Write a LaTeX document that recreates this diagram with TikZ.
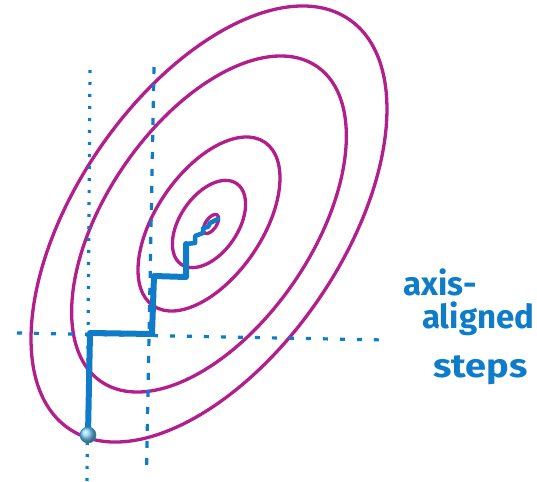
\documentclass[tikz,border=0pt]{standalone}
\usepackage{fontspec}
\setmainfont{Fira Sans}
\definecolor{mag}{RGB}{178,30,140}
\definecolor{blu}{RGB}{14,124,200}
\definecolor{ballhi}{RGB}{130,210,248}
\definecolor{balllo}{RGB}{25,140,215}
\tikzset{
  contour/.style={draw=mag, line width=3.3pt},
  guide/.style={draw=blu, line width=3.2pt, dash pattern=on 3pt off 9pt},
  guidedash/.style={draw=blu, line width=3.2pt, dash pattern=on 7pt off 10pt},
  stepline/.style={draw=blu, line width=6pt, line join=round, line cap=round},
  zig/.style={draw=blu, line width=4.5pt, line join=round, line cap=round},
  hand/.style={text=blu, anchor=base west, inner sep=0pt, font=\fontsize{33}{33}\selectfont\bfseries},
}
\begin{document}
\begin{tikzpicture}[x=1pt,y=-1pt]
\useasboundingbox (0,0) rectangle (537,481);
\coordinate (c) at (209,224);
\coordinate (ci) at (211,224);
% contours
\draw[contour, rotate around={55.6:(c)}] (c) ellipse [x radius=248, y radius=133];
\draw[contour, rotate around={55.6:(c)}] (c) ellipse [x radius=191, y radius=103];
\draw[contour, rotate around={55.6:(c)}] (c) ellipse [x radius=99, y radius=53];
\draw[contour, rotate around={55.6:(c)}] (c) ellipse [x radius=49, y radius=29];
\draw[contour, rotate around={55.6:(ci)}] (ci) ellipse [x radius=11, y radius=5.5];
% guide lines
\coordinate (v1t) at (90,70);
\coordinate (v1b) at (87,481);
\coordinate (v2t) at (154,67);
\coordinate (v2b) at (146.5,472);
\coordinate (hl) at (17,333);
\coordinate (hr) at (385,340);
\draw[guide] (v1t) -- (v1b);
\draw[guidedash] (v2t) -- (v2b);
\draw[guide, dash pattern=on 5pt off 12pt] (hl) -- (hr);
% steps
\coordinate (p0) at (88,435);
\coordinate (p1) at (90,333);
\coordinate (p2) at (152,334);
\coordinate (p3) at (154,276);
\coordinate (p4) at (186,277);
\coordinate (p5) at (186,244);
\draw[stepline] (p0) -- (p1) -- (p2) -- (p3) -- (p4) -- (p5);
\coordinate (z1) at (195,243);
\coordinate (z2) at (195,236);
\coordinate (z3) at (203,233);
\coordinate (z4) at (203,228);
\coordinate (z5) at (208,227);
\coordinate (z6) at (210,223);
\coordinate (z7) at (218,219);
\draw[zig] (p5) -- (z1) -- (z2) -- (z3) -- (z4) -- (z5) -- (z6) -- (z7);
% start point
\node[circle, minimum size=16pt, inner sep=0pt, ball color=ballhi, draw=balllo, line width=0.6pt] (start) at (p0) {};
% label
\node[hand] (l1) at (403,295) {axis-};
\node[hand] (l2) at (422,328) {aligned};
\node[hand] (l3) at (433,377) {\scalebox{1.15}[1]{steps}};
\end{tikzpicture}
\end{document}
